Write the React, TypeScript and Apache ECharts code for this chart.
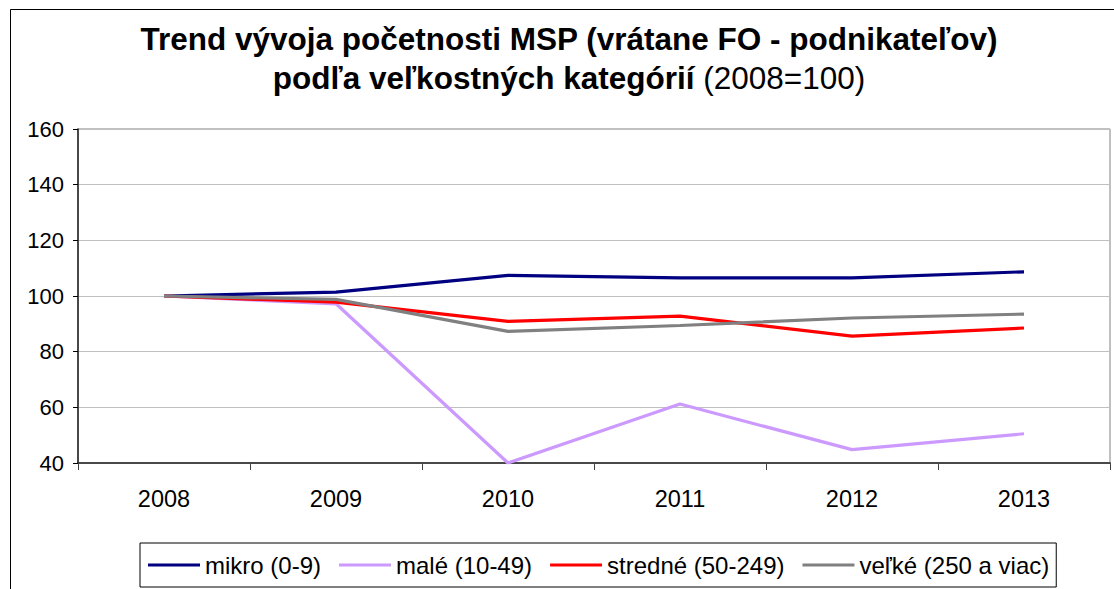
import React, { useEffect, useRef } from "react";
import * as echarts from "echarts";

const categories = ["2008", "2009", "2010", "2011", "2012", "2013"];
const mikro = [100, 101.4, 107.4, 106.5, 106.5, 108.7];
const male = [100, 97.2, 40, 61.2, 44.8, 50.5];
const stredne = [100, 97.8, 90.9, 92.8, 85.6, 88.5];
const velke = [100, 98.8, 87.3, 89.4, 92.1, 93.5];
const seriesNames = ["mikro (0-9)", "malé (10-49)", "stredné (50-249)", "veľké (250 a viac)"];
const seriesColors = ["#000080", "#CC99FF", "#FF0000", "#808080"];
const titleLine1 = "Trend vývoja početnosti MSP (vrátane FO - podnikateľov)";
const titleLine2Bold = "podľa veľkostných kategórií";
const titleLine2Normal = " (2008=100)";

const FONT = "Arial, 'Liberation Sans', sans-serif";

export default function App() {
  const ref = useRef<HTMLDivElement>(null);
  useEffect(() => {
    if (!ref.current) return;
    const chart = echarts.init(ref.current, undefined, { renderer: "svg" });
    const data = [mikro, male, stredne, velke];
    chart.setOption({
      animation: false,
      backgroundColor: "#ffffff",
      textStyle: { fontFamily: FONT, color: "#000" },
      graphic: [
        {
          type: "rect",
          shape: { x: 10.5, y: 9.5, width: 1200, height: 700 },
          style: { fill: "none", stroke: "#000", lineWidth: 1 },
          silent: true,
        },
        {
          type: "text",
          x: 569,
          y: 38.5,
          style: {
            text: titleLine1,
            fontFamily: FONT,
            fontSize: 31.5,
            fontWeight: "bold",
            fill: "#000",
            align: "center",
            verticalAlign: "middle",
          },
        },
        {
          type: "text",
          x: 569,
          y: 78,
          style: {
            text: "{b|" + titleLine2Bold + "}{n|" + titleLine2Normal + "}",
            fontFamily: FONT,
            fontSize: 31.5,
            fill: "#000",
            align: "center",
            verticalAlign: "middle",
            rich: {
              b: { fontFamily: FONT, fontSize: 31.5, fontWeight: "bold", fill: "#000" },
              n: { fontFamily: FONT, fontSize: 31.5, fontWeight: "normal", fill: "#000" },
            },
          },
        },
      ],
      grid: { left: 78, top: 129, right: 4, bottom: 126, show: true, borderColor: "#808080", borderWidth: 1 },
      legend: {
        left: 140,
        top: 543,
        orient: "horizontal",
        padding: [10, 7, 10, 8],
        itemGap: 18,
        itemWidth: 52,
        itemHeight: 3,
        icon: "rect",
        borderColor: "#000",
        borderWidth: 1,
        textStyle: { fontFamily: FONT, fontSize: 24, color: "#000" },
        data: seriesNames,
      },
      xAxis: {
        type: "category",
        data: categories,
        boundaryGap: true,
        axisLine: { show: true, lineStyle: { color: "#202020", width: 1.5 } },
        axisTick: { show: true, length: 7, alignWithLabel: false, lineStyle: { color: "#404040" } },
        axisLabel: { fontFamily: FONT, fontSize: 23.5, color: "#000", margin: 24 },
        splitLine: { show: false },
      },
      yAxis: {
        type: "value",
        min: 40,
        max: 160,
        interval: 20,
        axisLine: { show: true, lineStyle: { color: "#202020", width: 1.5 } },
        axisTick: { show: true, length: 5, lineStyle: { color: "#000" } },
        axisLabel: { fontFamily: FONT, fontSize: 22, color: "#000", margin: 14 },
        splitLine: { show: true, lineStyle: { color: "#c0c0c0", width: 1 } },
      },
      series: seriesNames.map((name, i) => ({
        name,
        type: "line",
        data: data[i],
        symbol: "none",
        color: seriesColors[i],
        lineStyle: { color: seriesColors[i], width: 3.2 },
      })),
    });
    return () => chart.dispose();
  }, []);
  return <div ref={ref} style={{ position: "fixed", left: 0, top: 0, width: 1114, height: 589 }} />;
}
